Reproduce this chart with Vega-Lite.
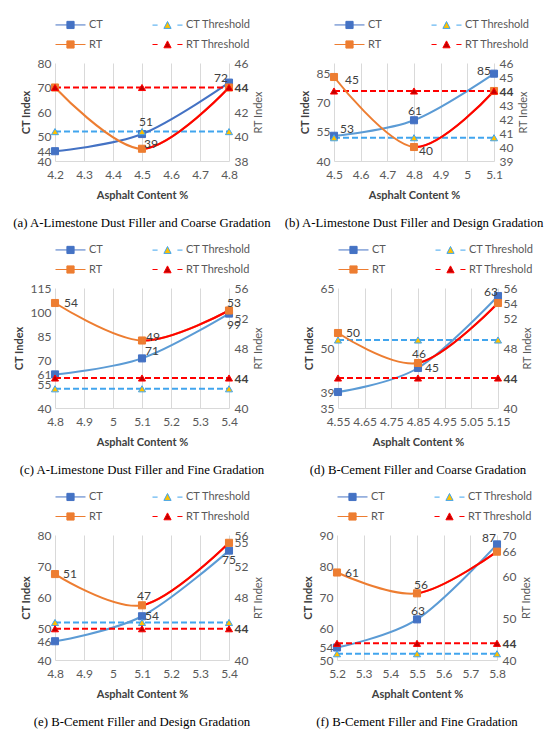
{
  "$schema": "https://vega.github.io/schema/vega-lite/v6.json",
  "background": "white",
  "padding": {"left": 13, "top": 18, "right": 0, "bottom": 0},
  "data": {
    "values": [
      {"p": "a", "s": "CT", "x": 4.2, "v": 44}, {"p": "a", "s": "CT", "x": 4.5, "v": 51}, {"p": "a", "s": "CT", "x": 4.8, "v": 72},
      {"p": "a", "s": "RT", "x": 4.2, "v": 44}, {"p": "a", "s": "RT", "x": 4.5, "v": 39}, {"p": "a", "s": "RT", "x": 4.8, "v": 44},
      {"p": "a", "s": "CT Threshold", "x": 4.2, "v": 52}, {"p": "a", "s": "CT Threshold", "x": 4.5, "v": 52}, {"p": "a", "s": "CT Threshold", "x": 4.8, "v": 52},
      {"p": "a", "s": "RT Threshold", "x": 4.2, "v": 44}, {"p": "a", "s": "RT Threshold", "x": 4.5, "v": 44}, {"p": "a", "s": "RT Threshold", "x": 4.8, "v": 44},
      {"p": "b", "s": "CT", "x": 4.5, "v": 53}, {"p": "b", "s": "CT", "x": 4.8, "v": 61}, {"p": "b", "s": "CT", "x": 5.1, "v": 85},
      {"p": "b", "s": "RT", "x": 4.5, "v": 45}, {"p": "b", "s": "RT", "x": 4.8, "v": 40}, {"p": "b", "s": "RT", "x": 5.1, "v": 44},
      {"p": "b", "s": "CT Threshold", "x": 4.5, "v": 52}, {"p": "b", "s": "CT Threshold", "x": 4.8, "v": 52}, {"p": "b", "s": "CT Threshold", "x": 5.1, "v": 52},
      {"p": "b", "s": "RT Threshold", "x": 4.5, "v": 44}, {"p": "b", "s": "RT Threshold", "x": 4.8, "v": 44}, {"p": "b", "s": "RT Threshold", "x": 5.1, "v": 44},
      {"p": "c", "s": "CT", "x": 4.8, "v": 61}, {"p": "c", "s": "CT", "x": 5.1, "v": 71}, {"p": "c", "s": "CT", "x": 5.4, "v": 99},
      {"p": "c", "s": "RT", "x": 4.8, "v": 54}, {"p": "c", "s": "RT", "x": 5.1, "v": 49}, {"p": "c", "s": "RT", "x": 5.4, "v": 53},
      {"p": "c", "s": "CT Threshold", "x": 4.8, "v": 52}, {"p": "c", "s": "CT Threshold", "x": 5.1, "v": 52}, {"p": "c", "s": "CT Threshold", "x": 5.4, "v": 52},
      {"p": "c", "s": "RT Threshold", "x": 4.8, "v": 44}, {"p": "c", "s": "RT Threshold", "x": 5.1, "v": 44}, {"p": "c", "s": "RT Threshold", "x": 5.4, "v": 44},
      {"p": "d", "s": "CT", "x": 4.55, "v": 39}, {"p": "d", "s": "CT", "x": 4.85, "v": 45}, {"p": "d", "s": "CT", "x": 5.15, "v": 63},
      {"p": "d", "s": "RT", "x": 4.55, "v": 50}, {"p": "d", "s": "RT", "x": 4.85, "v": 46}, {"p": "d", "s": "RT", "x": 5.15, "v": 54},
      {"p": "d", "s": "CT Threshold", "x": 4.55, "v": 52}, {"p": "d", "s": "CT Threshold", "x": 4.85, "v": 52}, {"p": "d", "s": "CT Threshold", "x": 5.15, "v": 52},
      {"p": "d", "s": "RT Threshold", "x": 4.55, "v": 44}, {"p": "d", "s": "RT Threshold", "x": 4.85, "v": 44}, {"p": "d", "s": "RT Threshold", "x": 5.15, "v": 44},
      {"p": "e", "s": "CT", "x": 4.8, "v": 46}, {"p": "e", "s": "CT", "x": 5.1, "v": 54}, {"p": "e", "s": "CT", "x": 5.4, "v": 75},
      {"p": "e", "s": "RT", "x": 4.8, "v": 51}, {"p": "e", "s": "RT", "x": 5.1, "v": 47}, {"p": "e", "s": "RT", "x": 5.4, "v": 55},
      {"p": "e", "s": "CT Threshold", "x": 4.8, "v": 52}, {"p": "e", "s": "CT Threshold", "x": 5.1, "v": 52}, {"p": "e", "s": "CT Threshold", "x": 5.4, "v": 52},
      {"p": "e", "s": "RT Threshold", "x": 4.8, "v": 44}, {"p": "e", "s": "RT Threshold", "x": 5.1, "v": 44}, {"p": "e", "s": "RT Threshold", "x": 5.4, "v": 44},
      {"p": "f", "s": "CT", "x": 5.2, "v": 54}, {"p": "f", "s": "CT", "x": 5.5, "v": 63}, {"p": "f", "s": "CT", "x": 5.8, "v": 87},
      {"p": "f", "s": "RT", "x": 5.2, "v": 61}, {"p": "f", "s": "RT", "x": 5.5, "v": 56}, {"p": "f", "s": "RT", "x": 5.8, "v": 66},
      {"p": "f", "s": "CT Threshold", "x": 5.2, "v": 52}, {"p": "f", "s": "CT Threshold", "x": 5.5, "v": 52}, {"p": "f", "s": "CT Threshold", "x": 5.8, "v": 52},
      {"p": "f", "s": "RT Threshold", "x": 5.2, "v": 44}, {"p": "f", "s": "RT Threshold", "x": 5.5, "v": 44}, {"p": "f", "s": "RT Threshold", "x": 5.8, "v": 44}
    ]
  },
  "spacing": 13,
  "resolve": {
    "scale": {"shape": "independent", "fill": "independent", "stroke": "independent"},
    "legend": {"shape": "independent", "fill": "independent", "stroke": "independent"}
  },
  "vconcat": [
    {
      "spacing": 13,
      "resolve": {
        "scale": {"shape": "independent", "fill": "independent", "stroke": "independent"},
        "legend": {"shape": "independent", "fill": "independent", "stroke": "independent"}
      },
      "hconcat": [
        {
          "width": 174, "height": 98,
          "title": "(a) A-Limestone Dust Filler and Coarse Gradation",
          "transform": [{"filter": "datum.p == 'a'"}],
          "encoding": {"x": {"field": "x", "type": "quantitative", "scale": {"domain": [4.2, 4.8], "nice": false}, "axis": {"values": [4.2, 4.3, 4.4, 4.5, 4.6, 4.7, 4.8], "title": "Asphalt Content %"}}},
          "layer": [
            {
              "encoding": {"y": {"field": "v", "type": "quantitative", "scale": {"domain": [40, 80], "nice": false}, "axis": {"values": [40, 44, 50, 60, 70, 80], "title": "CT Index"}}},
              "layer": [
                {"transform": [{"filter": "false"}], "mark": {"type": "point"},
                  "encoding": {
                    "shape": {"field": "s", "type": "nominal", "title": null, "scale": {"domain": ["CT", "CT Threshold", "RT", "RT Threshold"], "range": ["M-1,0H4M0.9,-0.6H2.1V0.6H0.9Z", "M-1,0H-0.15M3.15,0H4M0.9,0.55L1.5,-0.6L2.1,0.55Z", "M-1,0H4M0.9,-0.6H2.1V0.6H0.9Z", "M-1,0H-0.15M3.15,0H4M0.9,0.55L1.5,-0.6L2.1,0.55Z"]}},
                    "fill": {"field": "s", "type": "nominal", "title": null, "scale": {"domain": ["CT", "CT Threshold", "RT", "RT Threshold"], "range": ["#4472C4", "#FFC000", "#ED7D31", "#C00000"]}},
                    "stroke": {"field": "s", "type": "nominal", "title": null, "scale": {"domain": ["CT", "CT Threshold", "RT", "RT Threshold"], "range": ["#4472C4", "#41A5EE", "#ED7D31", "#FF0000"]}}}},
                {"transform": [{"filter": "datum.s == 'CT Threshold'"}], "mark": {"type": "line", "color": "#41A5EE", "strokeDash": [6, 3]}},
                {"transform": [{"filter": "datum.s == 'CT'"}], "mark": {"type": "line", "color": "#4472C4", "interpolate": "cardinal"}},
                {"transform": [{"filter": "datum.s == 'CT' || datum.s == 'CT Threshold'"}], "mark": {"type": "point"},
                  "encoding": {
                    "shape": {"condition": {"test": "datum.s == 'CT'", "value": "square"}, "value": "triangle-up"},
                    "fill": {"condition": {"test": "datum.s == 'CT'", "value": "#4472C4"}, "value": "#FFC000"},
                    "stroke": {"condition": {"test": "datum.s == 'CT'", "value": "#4472C4"}, "value": "#41A5EE"}}},
                {"transform": [{"filter": "datum.s == 'CT' && datum.x == 4.5"}], "mark": {"type": "text", "dx": 4, "dy": -12}, "encoding": {"text": {"field": "v"}}},
                {"transform": [{"filter": "datum.s == 'CT' && datum.x == 4.8"}], "mark": {"type": "text", "dx": -8, "dy": -5}, "encoding": {"text": {"field": "v"}}}
              ]
            },
            {
              "encoding": {"y": {"field": "v", "type": "quantitative", "scale": {"domain": [38, 46], "nice": false}, "axis": {"orient": "right", "values": [38, 40, 42, 44, 46], "title": "RT Index"}}},
              "layer": [
                {"transform": [{"filter": "datum.s == 'RT Threshold'"}], "mark": {"type": "line", "color": "#FF0000", "strokeDash": [6, 3]}},
                {"transform": [{"filter": "datum.s == 'RT'"}], "mark": {"type": "line", "color": "#ED7D31", "interpolate": "cardinal"}},
                {"transform": [{"filter": "datum.s == 'RT'"}], "mark": {"type": "line", "color": "#FF0000", "interpolate": "cardinal", "strokeDash": [0, 110, 2000, 0]}},
                {"transform": [{"filter": "datum.s == 'RT' || datum.s == 'RT Threshold'"}], "mark": {"type": "point"},
                  "encoding": {
                    "shape": {"condition": {"test": "datum.s == 'RT'", "value": "square"}, "value": "triangle-up"},
                    "fill": {"condition": {"test": "datum.s == 'RT'", "value": "#ED7D31"}, "value": "#C00000"},
                    "stroke": {"condition": {"test": "datum.s == 'RT'", "value": "#ED7D31"}, "value": "#FF0000"}}},
                {"transform": [{"filter": "datum.s == 'RT' && datum.x == 4.5"}], "mark": {"type": "text", "dx": 9, "dy": -5}, "encoding": {"text": {"field": "v"}}}
              ]
            }
          ],
          "resolve": {"scale": {"y": "independent"}}
        },
        {
          "width": 160, "height": 98,
          "title": "(b) A-Limestone Dust Filler and Design Gradation",
          "transform": [{"filter": "datum.p == 'b'"}],
          "encoding": {"x": {"field": "x", "type": "quantitative", "scale": {"domain": [4.5, 5.1], "nice": false}, "axis": {"values": [4.5, 4.6, 4.7, 4.8, 4.9, 5, 5.1], "title": "Asphalt Content %"}}},
          "layer": [
            {
              "encoding": {"y": {"field": "v", "type": "quantitative", "scale": {"domain": [40, 90.5], "nice": false}, "axis": {"values": [40, 55, 70, 85], "title": "CT Index"}}},
              "layer": [
                {"transform": [{"filter": "false"}], "mark": {"type": "point"},
                  "encoding": {
                    "shape": {"field": "s", "type": "nominal", "title": null, "scale": {"domain": ["CT", "CT Threshold", "RT", "RT Threshold"], "range": ["M-1,0H4M0.9,-0.6H2.1V0.6H0.9Z", "M-1,0H-0.15M3.15,0H4M0.9,0.55L1.5,-0.6L2.1,0.55Z", "M-1,0H4M0.9,-0.6H2.1V0.6H0.9Z", "M-1,0H-0.15M3.15,0H4M0.9,0.55L1.5,-0.6L2.1,0.55Z"]}},
                    "fill": {"field": "s", "type": "nominal", "title": null, "scale": {"domain": ["CT", "CT Threshold", "RT", "RT Threshold"], "range": ["#4472C4", "#FFC000", "#ED7D31", "#C00000"]}},
                    "stroke": {"field": "s", "type": "nominal", "title": null, "scale": {"domain": ["CT", "CT Threshold", "RT", "RT Threshold"], "range": ["#4472C4", "#41A5EE", "#ED7D31", "#FF0000"]}}}},
                {"transform": [{"filter": "datum.s == 'CT Threshold'"}], "mark": {"type": "line", "color": "#41A5EE", "strokeDash": [6, 3]}},
                {"transform": [{"filter": "datum.s == 'CT'"}], "mark": {"type": "line", "color": "#5B9BD5", "interpolate": "cardinal"}},
                {"transform": [{"filter": "datum.s == 'CT' || datum.s == 'CT Threshold'"}], "mark": {"type": "point"},
                  "encoding": {
                    "shape": {"condition": {"test": "datum.s == 'CT'", "value": "square"}, "value": "triangle-up"},
                    "fill": {"condition": {"test": "datum.s == 'CT'", "value": "#4472C4"}, "value": "#FFC000"},
                    "stroke": {"condition": {"test": "datum.s == 'CT'", "value": "#4472C4"}, "value": "#41A5EE"}}},
                {"transform": [{"filter": "datum.s == 'CT' && datum.x == 4.5"}], "mark": {"type": "text", "dx": 13, "dy": -7}, "encoding": {"text": {"field": "v"}}},
                {"transform": [{"filter": "datum.s == 'CT' && datum.x == 4.8"}], "mark": {"type": "text", "dx": 1, "dy": -9}, "encoding": {"text": {"field": "v"}}},
                {"transform": [{"filter": "datum.s == 'CT' && datum.x == 5.1"}], "mark": {"type": "text", "dx": -10, "dy": -3}, "encoding": {"text": {"field": "v"}}}
              ]
            },
            {
              "encoding": {"y": {"field": "v", "type": "quantitative", "scale": {"domain": [39, 46], "nice": false}, "axis": {"orient": "right", "values": [39, 40, 41, 42, 43, 44, 45, 46], "title": "RT Index"}}},
              "layer": [
                {"transform": [{"filter": "datum.s == 'RT Threshold'"}], "mark": {"type": "line", "color": "#FF0000", "strokeDash": [6, 3]}},
                {"transform": [{"filter": "datum.s == 'RT'"}], "mark": {"type": "line", "color": "#ED7D31", "interpolate": "cardinal"}},
                {"transform": [{"filter": "datum.s == 'RT'"}], "mark": {"type": "line", "color": "#FF0000", "interpolate": "cardinal", "strokeDash": [0, 110, 2000, 0]}},
                {"transform": [{"filter": "datum.s == 'RT' || datum.s == 'RT Threshold'"}], "mark": {"type": "point"},
                  "encoding": {
                    "shape": {"condition": {"test": "datum.s == 'RT'", "value": "square"}, "value": "triangle-up"},
                    "fill": {"condition": {"test": "datum.s == 'RT'", "value": "#ED7D31"}, "value": "#C00000"},
                    "stroke": {"condition": {"test": "datum.s == 'RT'", "value": "#ED7D31"}, "value": "#FF0000"}}},
                {"transform": [{"filter": "datum.s == 'RT' && datum.x == 4.5"}], "mark": {"type": "text", "dx": 18, "dy": 3}, "encoding": {"text": {"field": "v"}}},
                {"transform": [{"filter": "datum.s == 'RT' && datum.x == 4.8"}], "mark": {"type": "text", "dx": 12, "dy": 4}, "encoding": {"text": {"field": "v"}}}
              ]
            }
          ],
          "resolve": {"scale": {"y": "independent"}}
        }
      ]
    },
    {
      "spacing": 38,
      "resolve": {
        "scale": {"shape": "independent", "fill": "independent", "stroke": "independent"},
        "legend": {"shape": "independent", "fill": "independent", "stroke": "independent"}
      },
      "hconcat": [
        {
          "width": 174, "height": 120,
          "title": "(c) A-Limestone Dust Filler and Fine Gradation",
          "transform": [{"filter": "datum.p == 'c'"}],
          "encoding": {"x": {"field": "x", "type": "quantitative", "scale": {"domain": [4.8, 5.4], "nice": false}, "axis": {"values": [4.8, 4.9, 5, 5.1, 5.2, 5.3, 5.4], "title": "Asphalt Content %"}}},
          "layer": [
            {
              "encoding": {"y": {"field": "v", "type": "quantitative", "scale": {"domain": [40, 115], "nice": false}, "axis": {"values": [40, 55, 61, 70, 85, 100, 115], "title": "CT Index"}}},
              "layer": [
                {"transform": [{"filter": "false"}], "mark": {"type": "point"},
                  "encoding": {
                    "shape": {"field": "s", "type": "nominal", "title": null, "scale": {"domain": ["CT", "CT Threshold", "RT", "RT Threshold"], "range": ["M-1,0H4M0.9,-0.6H2.1V0.6H0.9Z", "M-1,0H-0.15M3.15,0H4M0.9,0.55L1.5,-0.6L2.1,0.55Z", "M-1,0H4M0.9,-0.6H2.1V0.6H0.9Z", "M-1,0H-0.15M3.15,0H4M0.9,0.55L1.5,-0.6L2.1,0.55Z"]}},
                    "fill": {"field": "s", "type": "nominal", "title": null, "scale": {"domain": ["CT", "CT Threshold", "RT", "RT Threshold"], "range": ["#4472C4", "#FFC000", "#ED7D31", "#C00000"]}},
                    "stroke": {"field": "s", "type": "nominal", "title": null, "scale": {"domain": ["CT", "CT Threshold", "RT", "RT Threshold"], "range": ["#4472C4", "#41A5EE", "#ED7D31", "#FF0000"]}}}},
                {"transform": [{"filter": "datum.s == 'CT Threshold'"}], "mark": {"type": "line", "color": "#41A5EE", "strokeDash": [6, 3]}},
                {"transform": [{"filter": "datum.s == 'CT'"}], "mark": {"type": "line", "color": "#5B9BD5", "interpolate": "cardinal"}},
                {"transform": [{"filter": "datum.s == 'CT' || datum.s == 'CT Threshold'"}], "mark": {"type": "point"},
                  "encoding": {
                    "shape": {"condition": {"test": "datum.s == 'CT'", "value": "square"}, "value": "triangle-up"},
                    "fill": {"condition": {"test": "datum.s == 'CT'", "value": "#4472C4"}, "value": "#FFC000"},
                    "stroke": {"condition": {"test": "datum.s == 'CT'", "value": "#4472C4"}, "value": "#41A5EE"}}},
                {"transform": [{"filter": "datum.s == 'CT' && datum.x == 5.1"}], "mark": {"type": "text", "dx": 10, "dy": -7}, "encoding": {"text": {"field": "v"}}},
                {"transform": [{"filter": "datum.s == 'CT' && datum.x == 5.4"}], "mark": {"type": "text", "dx": 5, "dy": 11}, "encoding": {"text": {"field": "v"}}}
              ]
            },
            {
              "encoding": {"y": {"field": "v", "type": "quantitative", "scale": {"domain": [40, 56], "nice": false}, "axis": {"orient": "right", "values": [40, 44, 48, 52, 56], "title": "RT Index"}}},
              "layer": [
                {"transform": [{"filter": "datum.s == 'RT Threshold'"}], "mark": {"type": "line", "color": "#FF0000", "strokeDash": [6, 3]}},
                {"transform": [{"filter": "datum.s == 'RT'"}], "mark": {"type": "line", "color": "#ED7D31", "interpolate": "cardinal"}},
                {"transform": [{"filter": "datum.s == 'RT'"}], "mark": {"type": "line", "color": "#FF0000", "interpolate": "cardinal", "strokeDash": [0, 96, 2000, 0]}},
                {"transform": [{"filter": "datum.s == 'RT' || datum.s == 'RT Threshold'"}], "mark": {"type": "point"},
                  "encoding": {
                    "shape": {"condition": {"test": "datum.s == 'RT'", "value": "square"}, "value": "triangle-up"},
                    "fill": {"condition": {"test": "datum.s == 'RT'", "value": "#ED7D31"}, "value": "#C00000"},
                    "stroke": {"condition": {"test": "datum.s == 'RT'", "value": "#ED7D31"}, "value": "#FF0000"}}},
                {"transform": [{"filter": "datum.s == 'RT' && datum.x == 4.8"}], "mark": {"type": "text", "dx": 16, "dy": 0}, "encoding": {"text": {"field": "v"}}},
                {"transform": [{"filter": "datum.s == 'RT' && datum.x == 5.1"}], "mark": {"type": "text", "dx": 11, "dy": -4}, "encoding": {"text": {"field": "v"}}},
                {"transform": [{"filter": "datum.s == 'RT' && datum.x == 5.4"}], "mark": {"type": "text", "dx": 5, "dy": -8}, "encoding": {"text": {"field": "v"}}}
              ]
            }
          ],
          "resolve": {"scale": {"y": "independent"}}
        },
        {
          "width": 160, "height": 120,
          "title": "(d) B-Cement Filler and Coarse Gradation",
          "transform": [{"filter": "datum.p == 'd'"}],
          "encoding": {"x": {"field": "x", "type": "quantitative", "scale": {"domain": [4.55, 5.15], "nice": false}, "axis": {"values": [4.55, 4.65, 4.75, 4.85, 4.95, 5.05, 5.15], "title": "Asphalt Content %"}}},
          "layer": [
            {
              "encoding": {"y": {"field": "v", "type": "quantitative", "scale": {"domain": [35, 65], "nice": false}, "axis": {"values": [35, 39, 50, 65], "title": "CT Index"}}},
              "layer": [
                {"transform": [{"filter": "false"}], "mark": {"type": "point"},
                  "encoding": {
                    "shape": {"field": "s", "type": "nominal", "title": null, "scale": {"domain": ["CT", "CT Threshold", "RT", "RT Threshold"], "range": ["M-1,0H4M0.9,-0.6H2.1V0.6H0.9Z", "M-1,0H-0.15M3.15,0H4M0.9,0.55L1.5,-0.6L2.1,0.55Z", "M-1,0H4M0.9,-0.6H2.1V0.6H0.9Z", "M-1,0H-0.15M3.15,0H4M0.9,0.55L1.5,-0.6L2.1,0.55Z"]}},
                    "fill": {"field": "s", "type": "nominal", "title": null, "scale": {"domain": ["CT", "CT Threshold", "RT", "RT Threshold"], "range": ["#4472C4", "#FFC000", "#ED7D31", "#C00000"]}},
                    "stroke": {"field": "s", "type": "nominal", "title": null, "scale": {"domain": ["CT", "CT Threshold", "RT", "RT Threshold"], "range": ["#4472C4", "#41A5EE", "#ED7D31", "#FF0000"]}}}},
                {"transform": [{"filter": "datum.s == 'CT Threshold'"}], "mark": {"type": "line", "color": "#41A5EE", "strokeDash": [6, 3]}},
                {"transform": [{"filter": "datum.s == 'CT'"}], "mark": {"type": "line", "color": "#5B9BD5", "interpolate": "cardinal"}},
                {"transform": [{"filter": "datum.s == 'CT' || datum.s == 'CT Threshold'"}], "mark": {"type": "point"},
                  "encoding": {
                    "shape": {"condition": {"test": "datum.s == 'CT'", "value": "square"}, "value": "triangle-up"},
                    "fill": {"condition": {"test": "datum.s == 'CT'", "value": "#4472C4"}, "value": "#FFC000"},
                    "stroke": {"condition": {"test": "datum.s == 'CT'", "value": "#4472C4"}, "value": "#41A5EE"}}},
                {"transform": [{"filter": "datum.s == 'CT' && datum.x == 4.85"}], "mark": {"type": "text", "dx": 14, "dy": 0}, "encoding": {"text": {"field": "v"}}},
                {"transform": [{"filter": "datum.s == 'CT' && datum.x == 5.15"}], "mark": {"type": "text", "dx": -7, "dy": -4}, "encoding": {"text": {"field": "v"}}}
              ]
            },
            {
              "encoding": {"y": {"field": "v", "type": "quantitative", "scale": {"domain": [40, 56], "nice": false}, "axis": {"orient": "right", "values": [40, 44, 48, 52, 54, 56], "title": "RT Index"}}},
              "layer": [
                {"transform": [{"filter": "datum.s == 'RT Threshold'"}], "mark": {"type": "line", "color": "#FF0000", "strokeDash": [6, 3]}},
                {"transform": [{"filter": "datum.s == 'RT'"}], "mark": {"type": "line", "color": "#ED7D31", "interpolate": "cardinal"}},
                {"transform": [{"filter": "datum.s == 'RT'"}], "mark": {"type": "line", "color": "#FF0000", "interpolate": "cardinal", "strokeDash": [0, 88, 2000, 0]}},
                {"transform": [{"filter": "datum.s == 'RT' || datum.s == 'RT Threshold'"}], "mark": {"type": "point"},
                  "encoding": {
                    "shape": {"condition": {"test": "datum.s == 'RT'", "value": "square"}, "value": "triangle-up"},
                    "fill": {"condition": {"test": "datum.s == 'RT'", "value": "#ED7D31"}, "value": "#C00000"},
                    "stroke": {"condition": {"test": "datum.s == 'RT'", "value": "#ED7D31"}, "value": "#FF0000"}}},
                {"transform": [{"filter": "datum.s == 'RT' && datum.x == 4.55"}], "mark": {"type": "text", "dx": 15, "dy": 0}, "encoding": {"text": {"field": "v"}}},
                {"transform": [{"filter": "datum.s == 'RT' && datum.x == 4.85"}], "mark": {"type": "text", "dx": 1, "dy": -9}, "encoding": {"text": {"field": "v"}}}
              ]
            }
          ],
          "resolve": {"scale": {"y": "independent"}}
        }
      ]
    },
    {
      "spacing": 38,
      "resolve": {
        "scale": {"shape": "independent", "fill": "independent", "stroke": "independent"},
        "legend": {"shape": "independent", "fill": "independent", "stroke": "independent"}
      },
      "hconcat": [
        {
          "width": 174, "height": 125,
          "title": "(e) B-Cement Filler and Design Gradation",
          "transform": [{"filter": "datum.p == 'e'"}],
          "encoding": {"x": {"field": "x", "type": "quantitative", "scale": {"domain": [4.8, 5.4], "nice": false}, "axis": {"values": [4.8, 4.9, 5, 5.1, 5.2, 5.3, 5.4], "title": "Asphalt Content %"}}},
          "layer": [
            {
              "encoding": {"y": {"field": "v", "type": "quantitative", "scale": {"domain": [40, 80], "nice": false}, "axis": {"values": [40, 46, 50, 60, 70, 80], "title": "CT Index"}}},
              "layer": [
                {"transform": [{"filter": "false"}], "mark": {"type": "point"},
                  "encoding": {
                    "shape": {"field": "s", "type": "nominal", "title": null, "scale": {"domain": ["CT", "CT Threshold", "RT", "RT Threshold"], "range": ["M-1,0H4M0.9,-0.6H2.1V0.6H0.9Z", "M-1,0H-0.15M3.15,0H4M0.9,0.55L1.5,-0.6L2.1,0.55Z", "M-1,0H4M0.9,-0.6H2.1V0.6H0.9Z", "M-1,0H-0.15M3.15,0H4M0.9,0.55L1.5,-0.6L2.1,0.55Z"]}},
                    "fill": {"field": "s", "type": "nominal", "title": null, "scale": {"domain": ["CT", "CT Threshold", "RT", "RT Threshold"], "range": ["#4472C4", "#FFC000", "#ED7D31", "#C00000"]}},
                    "stroke": {"field": "s", "type": "nominal", "title": null, "scale": {"domain": ["CT", "CT Threshold", "RT", "RT Threshold"], "range": ["#4472C4", "#41A5EE", "#ED7D31", "#FF0000"]}}}},
                {"transform": [{"filter": "datum.s == 'CT Threshold'"}], "mark": {"type": "line", "color": "#41A5EE", "strokeDash": [6, 3]}},
                {"transform": [{"filter": "datum.s == 'CT'"}], "mark": {"type": "line", "color": "#5B9BD5", "interpolate": "cardinal"}},
                {"transform": [{"filter": "datum.s == 'CT' || datum.s == 'CT Threshold'"}], "mark": {"type": "point"},
                  "encoding": {
                    "shape": {"condition": {"test": "datum.s == 'CT'", "value": "square"}, "value": "triangle-up"},
                    "fill": {"condition": {"test": "datum.s == 'CT'", "value": "#4472C4"}, "value": "#FFC000"},
                    "stroke": {"condition": {"test": "datum.s == 'CT'", "value": "#4472C4"}, "value": "#41A5EE"}}},
                {"transform": [{"filter": "datum.s == 'CT' && datum.x == 5.1"}], "mark": {"type": "text", "dx": 10, "dy": 0}, "encoding": {"text": {"field": "v"}}},
                {"transform": [{"filter": "datum.s == 'CT' && datum.x == 5.4"}], "mark": {"type": "text", "dx": 0, "dy": 9}, "encoding": {"text": {"field": "v"}}}
              ]
            },
            {
              "encoding": {"y": {"field": "v", "type": "quantitative", "scale": {"domain": [40, 56], "nice": false}, "axis": {"orient": "right", "values": [40, 44, 48, 52, 55, 56], "title": "RT Index"}}},
              "layer": [
                {"transform": [{"filter": "datum.s == 'RT Threshold'"}], "mark": {"type": "line", "color": "#FF0000", "strokeDash": [6, 3]}},
                {"transform": [{"filter": "datum.s == 'RT'"}], "mark": {"type": "line", "color": "#ED7D31", "interpolate": "cardinal"}},
                {"transform": [{"filter": "datum.s == 'RT'"}], "mark": {"type": "line", "color": "#FF0000", "interpolate": "cardinal", "strokeDash": [0, 95, 2000, 0]}},
                {"transform": [{"filter": "datum.s == 'RT' || datum.s == 'RT Threshold'"}], "mark": {"type": "point"},
                  "encoding": {
                    "shape": {"condition": {"test": "datum.s == 'RT'", "value": "square"}, "value": "triangle-up"},
                    "fill": {"condition": {"test": "datum.s == 'RT'", "value": "#ED7D31"}, "value": "#C00000"},
                    "stroke": {"condition": {"test": "datum.s == 'RT'", "value": "#ED7D31"}, "value": "#FF0000"}}},
                {"transform": [{"filter": "datum.s == 'RT' && datum.x == 4.8"}], "mark": {"type": "text", "dx": 15, "dy": 0}, "encoding": {"text": {"field": "v"}}},
                {"transform": [{"filter": "datum.s == 'RT' && datum.x == 5.1"}], "mark": {"type": "text", "dx": 2, "dy": -9}, "encoding": {"text": {"field": "v"}}}
              ]
            }
          ],
          "resolve": {"scale": {"y": "independent"}}
        },
        {
          "width": 160, "height": 125,
          "title": "(f) B-Cement Filler and Fine Gradation",
          "transform": [{"filter": "datum.p == 'f'"}],
          "encoding": {"x": {"field": "x", "type": "quantitative", "scale": {"domain": [5.2, 5.8], "nice": false}, "axis": {"values": [5.2, 5.3, 5.4, 5.5, 5.6, 5.7, 5.8], "title": "Asphalt Content %"}}},
          "layer": [
            {
              "encoding": {"y": {"field": "v", "type": "quantitative", "scale": {"domain": [50, 90], "nice": false}, "axis": {"values": [50, 54, 60, 70, 80, 90], "title": "CT Index"}}},
              "layer": [
                {"transform": [{"filter": "false"}], "mark": {"type": "point"},
                  "encoding": {
                    "shape": {"field": "s", "type": "nominal", "title": null, "scale": {"domain": ["CT", "CT Threshold", "RT", "RT Threshold"], "range": ["M-1,0H4M0.9,-0.6H2.1V0.6H0.9Z", "M-1,0H-0.15M3.15,0H4M0.9,0.55L1.5,-0.6L2.1,0.55Z", "M-1,0H4M0.9,-0.6H2.1V0.6H0.9Z", "M-1,0H-0.15M3.15,0H4M0.9,0.55L1.5,-0.6L2.1,0.55Z"]}},
                    "fill": {"field": "s", "type": "nominal", "title": null, "scale": {"domain": ["CT", "CT Threshold", "RT", "RT Threshold"], "range": ["#4472C4", "#FFC000", "#ED7D31", "#C00000"]}},
                    "stroke": {"field": "s", "type": "nominal", "title": null, "scale": {"domain": ["CT", "CT Threshold", "RT", "RT Threshold"], "range": ["#4472C4", "#41A5EE", "#ED7D31", "#FF0000"]}}}},
                {"transform": [{"filter": "datum.s == 'CT Threshold'"}], "mark": {"type": "line", "color": "#41A5EE", "strokeDash": [6, 3]}},
                {"transform": [{"filter": "datum.s == 'CT'"}], "mark": {"type": "line", "color": "#5B9BD5", "interpolate": "cardinal"}},
                {"transform": [{"filter": "datum.s == 'CT' || datum.s == 'CT Threshold'"}], "mark": {"type": "point"},
                  "encoding": {
                    "shape": {"condition": {"test": "datum.s == 'CT'", "value": "square"}, "value": "triangle-up"},
                    "fill": {"condition": {"test": "datum.s == 'CT'", "value": "#4472C4"}, "value": "#FFC000"},
                    "stroke": {"condition": {"test": "datum.s == 'CT'", "value": "#4472C4"}, "value": "#41A5EE"}}},
                {"transform": [{"filter": "datum.s == 'CT' && datum.x == 5.5"}], "mark": {"type": "text", "dx": 1, "dy": -8}, "encoding": {"text": {"field": "v"}}},
                {"transform": [{"filter": "datum.s == 'CT' && datum.x == 5.8"}], "mark": {"type": "text", "dx": -8, "dy": -6}, "encoding": {"text": {"field": "v"}}}
              ]
            },
            {
              "encoding": {"y": {"field": "v", "type": "quantitative", "scale": {"domain": [40, 70], "nice": false}, "axis": {"orient": "right", "values": [40, 44, 50, 60, 66, 70], "title": "RT Index"}}},
              "layer": [
                {"transform": [{"filter": "datum.s == 'RT Threshold'"}], "mark": {"type": "line", "color": "#FF0000", "strokeDash": [6, 3]}},
                {"transform": [{"filter": "datum.s == 'RT'"}], "mark": {"type": "line", "color": "#ED7D31", "interpolate": "cardinal"}},
                {"transform": [{"filter": "datum.s == 'RT'"}], "mark": {"type": "line", "color": "#FF0000", "interpolate": "cardinal", "strokeDash": [0, 84, 2000, 0]}},
                {"transform": [{"filter": "datum.s == 'RT' || datum.s == 'RT Threshold'"}], "mark": {"type": "point"},
                  "encoding": {
                    "shape": {"condition": {"test": "datum.s == 'RT'", "value": "square"}, "value": "triangle-up"},
                    "fill": {"condition": {"test": "datum.s == 'RT'", "value": "#ED7D31"}, "value": "#C00000"},
                    "stroke": {"condition": {"test": "datum.s == 'RT'", "value": "#ED7D31"}, "value": "#FF0000"}}},
                {"transform": [{"filter": "datum.s == 'RT' && datum.x == 5.2"}], "mark": {"type": "text", "dx": 15, "dy": 0}, "encoding": {"text": {"field": "v"}}},
                {"transform": [{"filter": "datum.s == 'RT' && datum.x == 5.5"}], "mark": {"type": "text", "dx": 4, "dy": -8}, "encoding": {"text": {"field": "v"}}}
              ]
            }
          ],
          "resolve": {"scale": {"y": "independent"}}
        }
      ]
    }
  ],
  "config": {
    "font": "Lato",
    "view": {"stroke": null},
    "axis": {
      "labelFont": "Lato", "labelFontSize": 12, "labelColor": "#595959", "labelOverlap": false, "labelFlush": false,
      "titleFont": "Lato", "titleFontSize": 11, "titleColor": "#404040", "titleFontWeight": "bold",
      "domain": false, "ticks": false, "grid": false, "labelPadding": 4
    },
    "axisX": {"domain": true, "domainColor": "#D9D9D9", "grid": true, "gridColor": "#D9D9D9", "gridWidth": 1, "labelPadding": 8, "titlePadding": 9, "format": ".3~g"},
    "axisLeft": {"titlePadding": 6},
    "axisRight": {
      "titleAngle": 270, "titleBaseline": "top", "titleFontWeight": "normal", "titleColor": "#595959", "titlePadding": 5, "labelPadding": 5,
      "labelFontWeight": {"condition": {"test": "datum.value == 44", "value": "bold"}, "value": "normal"},
      "labelColor": {"condition": {"test": "datum.value == 44", "value": "#404040"}, "value": "#595959"}
    },
    "legend": {
      "orient": "top", "columns": 2, "columnPadding": 47, "rowPadding": 7, "symbolSize": 144, "symbolStrokeWidth": 2,
      "labelOffset": 21, "labelFont": "Lato", "labelFontSize": 11, "labelColor": "#595959", "offset": 12
    },
    "title": {"orient": "bottom", "anchor": "middle", "frame": "group", "font": "Liberation Serif", "fontSize": 12.8, "fontWeight": "normal", "color": "#000000", "offset": 17},
    "line": {"strokeWidth": 2},
    "point": {"filled": true, "size": 50, "opacity": 1, "strokeWidth": 1},
    "text": {"font": "Lato", "fontSize": 12, "color": "#404040"}
  }
}
